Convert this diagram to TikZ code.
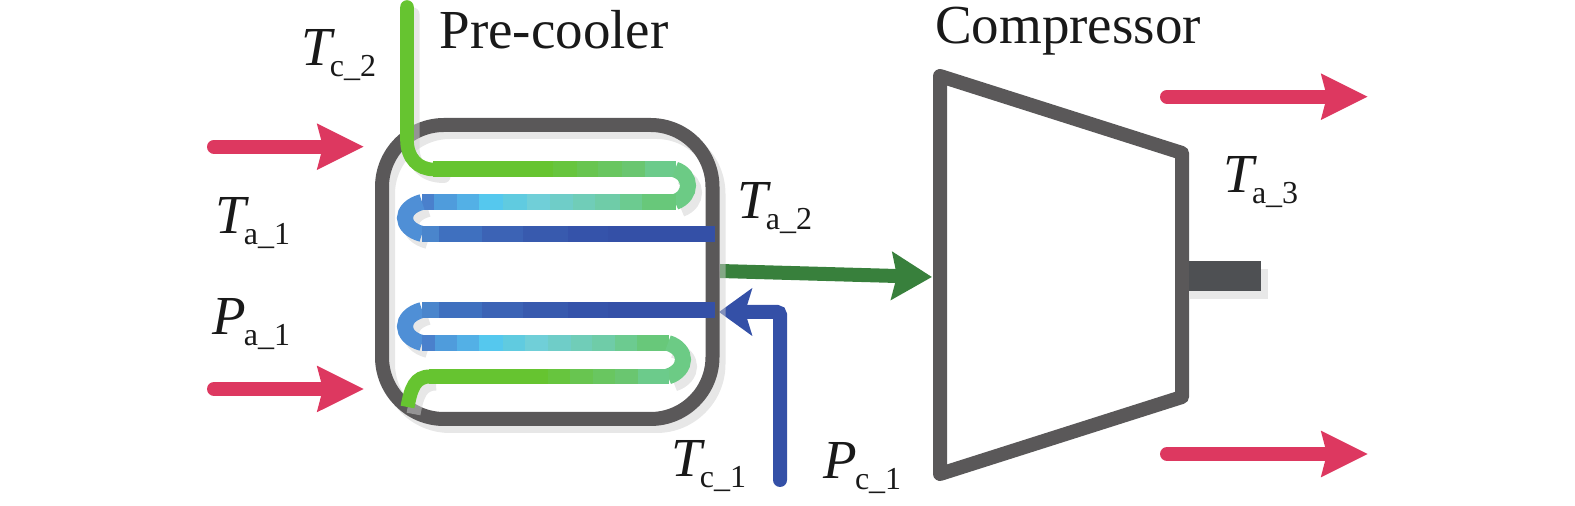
\documentclass[tikz,border=0pt]{standalone}
\usepackage{fontspec}
\setmainfont{Liberation Serif}
\usetikzlibrary{arrows.meta}
\definecolor{bodygray}{HTML}{5A5859}
\definecolor{shaftgray}{HTML}{4E5053}
\definecolor{airred}{HTML}{DD3860}
\definecolor{outgreen}{HTML}{38803C}
\definecolor{inblue}{HTML}{3450A7}
\definecolor{pipegreen}{HTML}{66C430}
\newcommand{\varlabel}[3]{{\fontsize{27.5}{30}\selectfont\itshape #1}\kern#3pt\raisebox{-5.5pt}{\fontsize{16}{18}\selectfont #2}}
\begin{document}
\begin{tikzpicture}[x=0.5pt,y=-0.5pt,
  flow/.style={line width=7pt,line cap=round,-{Stealth[length=23pt,width=22pt,inset=2.5pt]}},
  wall/.style={line width=7pt,draw=bodygray},
  band/.style={line width=8pt},
  turn/.style={line width=8pt,line cap=butt},
  pale/.style={draw=black!19,opacity=.5,shift={(6,7)}},
  lbl/.style={anchor=base west,inner sep=0pt,text=black!90},
  title/.style={inner sep=0pt,font=\fontsize{27.5}{30}\selectfont,text=black!90}]
 \useasboundingbox (0,0) rectangle (1575,506);
 % end points of the arrows
 \coordinate (aIn1) at (214,146.7);
 \coordinate (pre1) at (364,146.7);
 \coordinate (aIn2) at (214,389);
 \coordinate (pre2) at (364,389);
 \coordinate (aOut1) at (1167,96.7);
 \coordinate (tip1) at (1368,96.7);
 \coordinate (aOut2) at (1167,454);
 \coordinate (tip2) at (1368,454);
 \coordinate (preOut) at (720,271);
 \coordinate (compIn) at (932,277);
 \coordinate (cIn) at (780,480);
 \coordinate (cBend) at (780,312);
 \coordinate (cEnd) at (719,312);
 % air
 \draw[flow,airred] (aIn1) -- (pre1);
 \draw[flow,airred] (aIn2) -- (pre2);
 \draw[flow,airred] (aOut1) -- (tip1);
 \draw[flow,airred] (aOut2) -- (tip2);
 % flows crossing the pre-cooler wall
 \draw[line width=7pt,outgreen,-{Stealth[length=20pt,width=23.5pt,inset=2.5pt]}] (preOut) -- (compIn);
 \draw[pale,line width=7pt,opacity=1,draw=black!9] (cIn) -- (cBend);
 \draw[line width=7pt,inblue,line cap=round,rounded corners=1.5pt,-{Stealth[length=16.5pt,width=23.5pt,inset=3.5pt]}] (cIn) -- (cBend) -- (cEnd);
 % pre-cooler
 \draw[pale,line width=7pt,rounded corners=31pt] (382,125) rectangle (712.5,419);
 \draw[wall,rounded corners=31pt] (382,125) rectangle (712.5,419);
 % compressor
 \draw[wall,line join=round] (940,76) -- (1182,153) -- (1182,397) -- (940,474) -- cycle;
 \fill[black!9] (1189,269) rectangle (1268,299);
 \fill[shaftgray] (1189,261) rectangle (1261,291);
 % shadows of the tube
 \draw[pale,line width=6.5pt,line cap=round] (407,7) -- (407,140) .. controls (407,158) and (418,169.5) .. (438,169.5);
 \draw[pale,turn] (675,169.5) .. controls (692.3,175) and (692.3,196) .. (675,202);
 \foreach \yt/\yb in {202/234,310/343}
  \draw[pale,turn] (422,\yt) .. controls (399.3,\yt+6) and (399.3,\yb-6) .. (422,\yb);
 \draw[pale,turn] (668,343) .. controls (688,349) and (688,370) .. (668,376.5);
 \draw[pale,line width=7pt] (430,376.5) .. controls (415,376.5) and (411,388) .. (407.5,407);
 % tube, top half
 \draw[line width=6.8pt,pipegreen,line cap=round] (407,7) -- (407,140) .. controls (407,158) and (418,169.5) .. (434,169.5);
 \foreach \xa/\xb/\col in {433/554/66C430,553/578/67C53E,577/599/68C550,598/623/69C660,622/646/6AC670,645/676/6CCB8B} {
  \definecolor{cur}{HTML}{\col}
  \draw[band,cur] (\xa,169.5) -- (\xb,169.5);
 }
 \definecolor{turngreen}{HTML}{6CCB85}
 \draw[turn,turngreen] (675,169.5) .. controls (692.3,175) and (692.3,196) .. (675,202);
 \foreach \xa/\xb/\col in {433/458/4F9CDC,457/480/53B0E6,479/504/55C8EE,503/528/60CBE0,527/551/70CFD8,550/574/6FCDC8,573/596/70CDB8,595/621/6FCCA8,620/643/6CCB90,642/676/68C87A,422/434/4A80CC} {
  \definecolor{cur}{HTML}{\col}
  \draw[band,cur] (\xa,202) -- (\xb,202);
 }
 \definecolor{turnblue}{HTML}{4F8FD6}
 \foreach \yt/\yb in {202/234,310/343}
  \draw[turn,turnblue] (422,\yt) .. controls (399.3,\yt+6) and (399.3,\yb-6) .. (422,\yb);
 % the two dark runs
 \foreach \yr in {234,310}
  \foreach \xa/\xb/\col in {422/440/4A85CC,439/483/3F70BF,482/524/3C63B5,523/569/385AAE,568/609/3553AA,608/715/3450A7} {
   \definecolor{cur}{HTML}{\col}
   \draw[band,cur] (\xa,\yr) -- (\xb,\yr);
  }
 % tube, bottom half
 \foreach \xa/\xb/\col in {434/458/4F9CDC,457/480/53B0E6,479/504/55C8EE,503/526/60CBE0,525/549/70CFD8,548/572/6FCDC8,571/593/70CDB8,592/616/6FCCA8,615/638/6CCB90,637/669/68C87A,422/435/4A80CC} {
  \definecolor{cur}{HTML}{\col}
  \draw[band,cur] (\xa,343) -- (\xb,343);
 }
 \draw[turn,turngreen] (668,343) .. controls (688,349) and (688,370) .. (668,376.5);
 \foreach \xa/\xb/\col in {429/549/66C430,548/571/67C53E,570/594/68C550,593/616/69C660,615/639/6AC670,638/663/6CCB8B,662/669/6CCB8B} {
  \definecolor{cur}{HTML}{\col}
  \draw[line width=7.5pt,cur] (\xa,376.5) -- (\xb,376.5);
 }
 \draw[line width=7pt,pipegreen] (430,376.5) .. controls (415,376.5) and (411,388) .. (407.5,407);
 % labels
 \node[title] (pc) at (554,30) {Pre-cooler};
 \node[title] (cp) at (1068,31) {Compressor};
 \node[lbl] (Tc2) at (301,66) {\varlabel{T}{c\_2}{-1}};
 \node[lbl] (Ta1) at (215,234) {\varlabel{T}{a\_1}{-1}};
 \node[lbl] (Pa1) at (212,335) {\varlabel{P}{a\_1}{-1}};
 \node[lbl] (Ta2) at (737,219) {\varlabel{T}{a\_2}{-1}};
 \node[lbl] (Ta3) at (1223,193) {\varlabel{T}{a\_3}{-1}};
 \node[lbl] (Tc1) at (671,477) {\varlabel{T}{c\_1}{-1}};
 \node[lbl] (Pc1) at (823,479) {\varlabel{P}{c\_1}{-1}};
\end{tikzpicture}
\end{document}
